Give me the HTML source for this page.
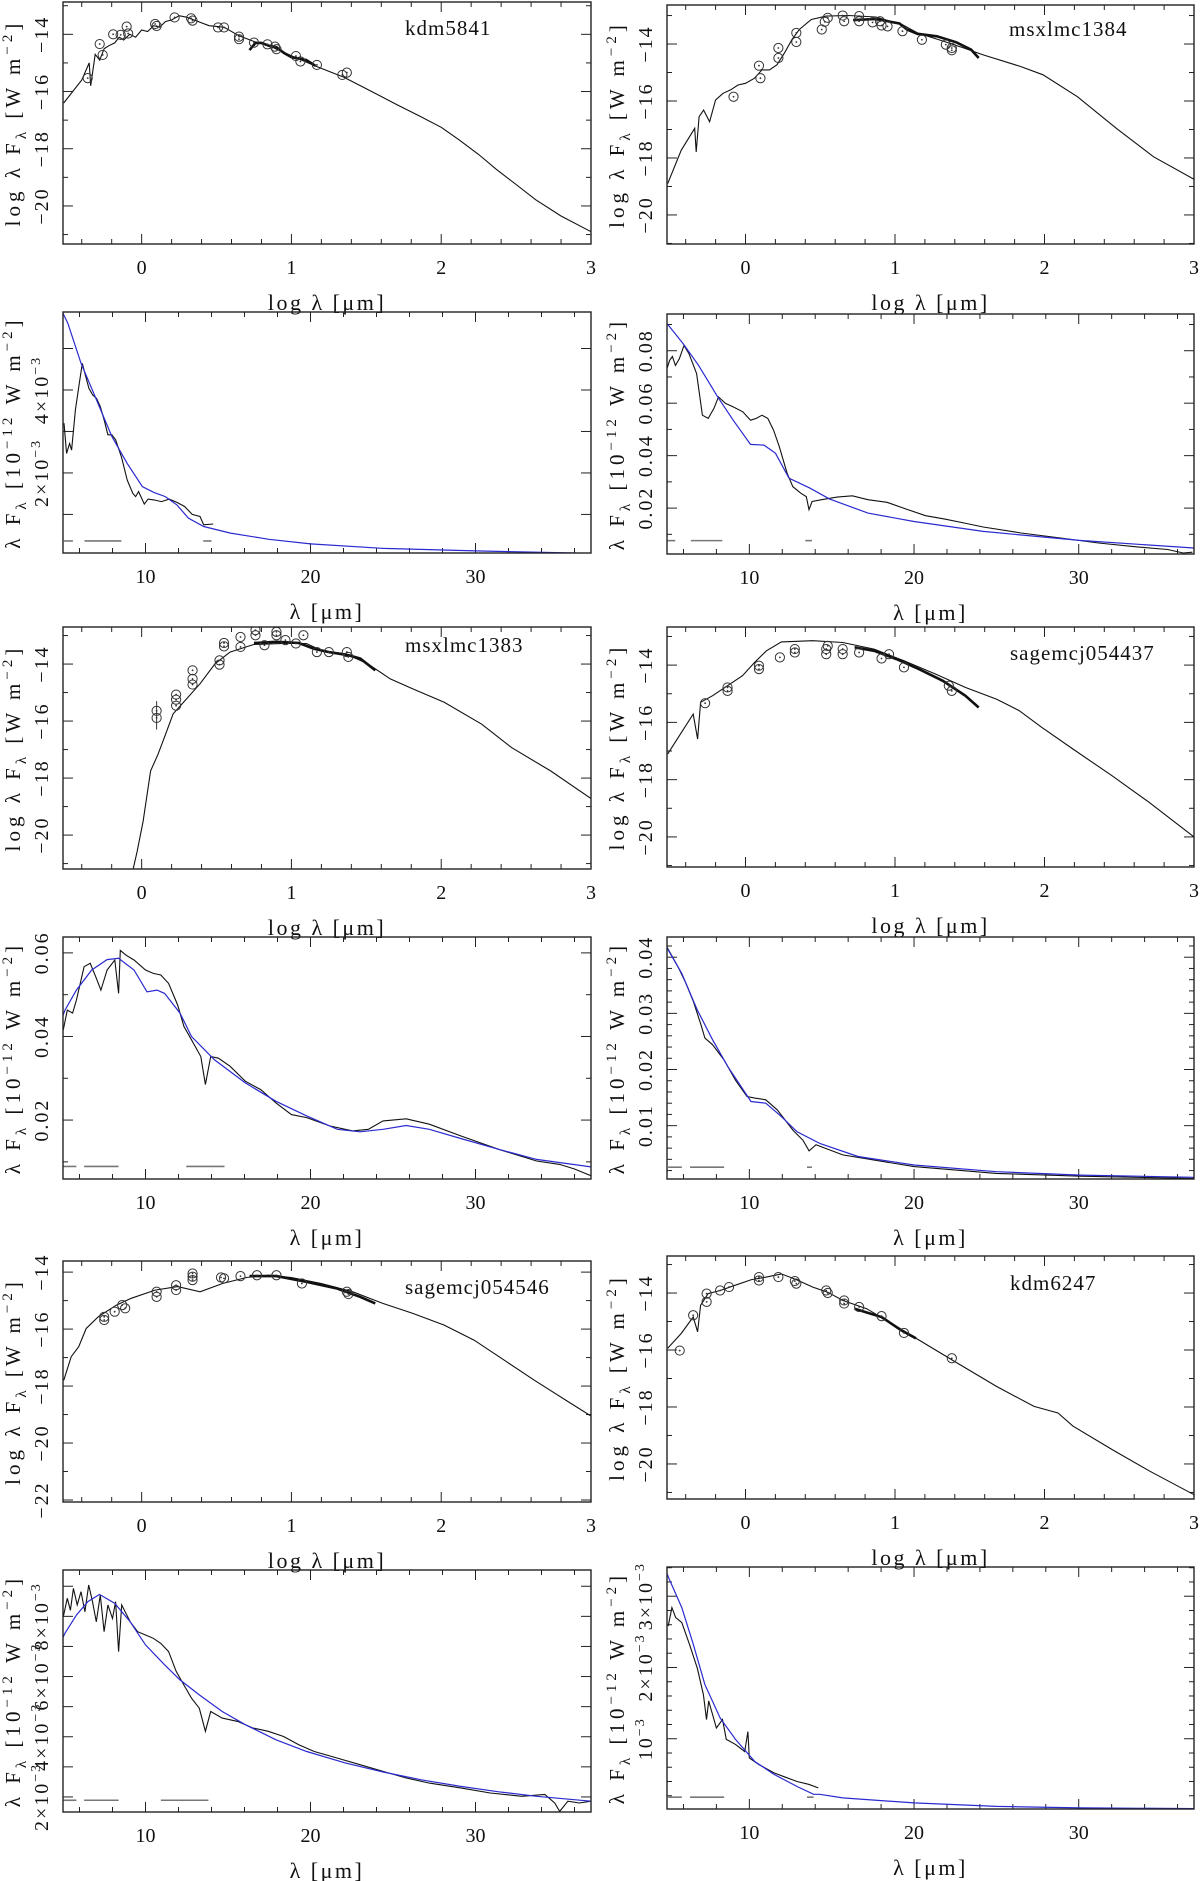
<!DOCTYPE html>
<html><head><meta charset="utf-8"><title>SED panels</title>
<style>
html,body{margin:0;padding:0;background:#fff;}
svg{display:block;font-family:"Liberation Serif",serif;}
</style></head>
<body>
<svg id="fig" xmlns="http://www.w3.org/2000/svg" width="1200" height="1881" viewBox="0 0 1200 1881">
<rect x="0" y="0" width="1200" height="1881" fill="#fff"/>
</svg>
<script>
// ---------- DATA ----------
const p1Model=[[-0.52,-16.4],[-0.40,-15.6],[-0.35,-15.0],[-0.34,-15.8],[-0.31,-14.7],[-0.28,-14.9],[-0.25,-14.5],[-0.22,-14.4],[-0.18,-14.3],[-0.15,-14.1],[-0.12,-14.2],[-0.08,-14.0],[-0.04,-14.1],[0.0,-13.85],[0.04,-13.9],[0.08,-13.7],[0.12,-13.75],[0.16,-13.55],[0.2,-13.5],[0.25,-13.35],[0.3,-13.4],[0.35,-13.5],[0.45,-13.7],[0.55,-13.75],[0.65,-14.05],[0.75,-14.25],[0.85,-14.4],[1.0,-14.75],[1.17,-15.13],[1.35,-15.5],[1.5,-15.9],[1.7,-16.45],[1.86,-16.87],[2.0,-17.25],[2.12,-17.69],[2.25,-18.2],[2.37,-18.73],[2.5,-19.25],[2.63,-19.78],[2.8,-20.35],[3.0,-20.9]];
const p1Spec=[[0.72,-14.55],[0.76,-14.3],[0.8,-14.3],[0.85,-14.4],[0.9,-14.45],[0.95,-14.65],[1.0,-14.8],[1.05,-14.85],[1.1,-14.9],[1.16,-15.1]];
const p1Phot=[[-0.36,-15.53],[-0.28,-14.34],[-0.26,-14.72],[-0.19,-14.0],[-0.14,-14.02],[-0.10,-13.73],[-0.09,-13.97],[0.09,-13.64],[0.1,-13.71],[0.22,-13.41],[0.33,-13.44],[0.34,-13.52],[0.51,-13.76],[0.55,-13.76],[0.65,-14.08],[0.65,-14.17],[0.75,-14.29],[0.84,-14.35],[0.89,-14.43],[0.9,-14.52],[1.03,-14.76],[1.06,-14.95],[1.17,-15.07],[1.34,-15.42],[1.37,-15.34]];
const p2Model=[[5.0,5.85],[5.29,5.61],[6.1,4.64],[7.03,3.76],[7.96,2.88],[8.89,2.23],[9.81,1.67],[10.51,1.53],[11.2,1.43],[11.9,1.23],[12.6,0.91],[13.53,0.71],[15.15,0.55],[17.47,0.40],[20,0.29],[24.4,0.18],[30,0.12],[37,0.06]];
const p2Spec=[[5.06,3.2],[5.22,2.47],[5.4,2.71],[5.52,2.55],[5.75,3.52],[5.99,4.16],[6.17,4.64],[6.33,4.4],[6.57,4.04],[6.8,3.88],[7.03,3.8],[7.26,3.6],[7.49,3.28],[7.72,2.92],[7.96,2.92],[8.19,2.8],[8.54,2.39],[8.89,1.83],[9.23,1.51],[9.4,1.43],[9.58,1.55],[9.93,1.25],[10.16,1.37],[10.51,1.35],[10.97,1.31],[11.44,1.37],[11.9,1.29],[12.37,1.19],[12.83,1.0],[13.3,0.95],[13.53,0.75],[14.1,0.77]];
const p2Ref=[[5.05,5.6,0.36],[6.3,8.54,0.36],[13.5,14.0,0.36]];
const p3Model=[[-0.52,-18.9],[-0.43,-17.73],[-0.34,-16.96],[-0.33,-17.79],[-0.31,-16.55],[-0.28,-16.32],[-0.24,-16.73],[-0.2,-15.96],[-0.15,-15.73],[-0.1,-15.61],[-0.05,-15.44],[0,-15.38],[0.06,-15.2],[0.11,-14.91],[0.16,-14.91],[0.21,-14.73],[0.26,-14.32],[0.31,-13.85],[0.36,-13.49],[0.44,-13.14],[0.54,-13.02],[0.69,-13.0],[0.87,-13.05],[1.05,-13.32],[1.15,-13.61],[1.33,-13.91],[1.46,-14.14],[1.59,-14.38],[1.84,-14.79],[1.99,-15.08],[2.22,-15.85],[2.48,-16.96],[2.73,-17.96],[3.0,-18.75]];
const p3Spec=[[0.72,-13.16],[0.87,-13.12],[1.03,-13.28],[1.08,-13.49],[1.15,-13.64],[1.28,-13.73],[1.41,-13.94],[1.51,-14.2],[1.56,-14.49]];
const p3Phot=[[-0.08,-15.85],[0.09,-14.76],[0.1,-15.2],[0.22,-14.14],[0.22,-14.49],[0.34,-13.61],[0.34,-13.93],[0.51,-13.49],[0.53,-13.22],[0.55,-13.08],[0.65,-13.0],[0.66,-13.2],[0.76,-13.02],[0.76,-13.2],[0.85,-13.24],[0.9,-13.2],[0.91,-13.35],[0.95,-13.38],[1.05,-13.55],[1.18,-13.85],[1.34,-14.02],[1.38,-14.14],[1.38,-14.22]];
const p4Model=[[5.05,0.09],[5.98,0.0827],[6.92,0.0744],[8.08,0.0624],[9.02,0.0535],[10.07,0.0443],[10.89,0.044],[11.59,0.0409],[12.41,0.0314],[13.69,0.0276],[14.86,0.0235],[17.2,0.0181],[20,0.0149],[24.2,0.0111],[30.05,0.0077],[37,0.0048]];
const p4Spec=[[5.0,0.0732],[5.16,0.0763],[5.33,0.0778],[5.51,0.0744],[5.75,0.077],[6.03,0.082],[6.33,0.0789],[6.8,0.0713],[7.15,0.0554],[7.5,0.0542],[7.85,0.058],[8.13,0.0624],[8.55,0.0599],[9.02,0.0586],[9.6,0.0567],[10.07,0.0535],[10.42,0.0542],[10.77,0.0554],[11.12,0.0542],[11.47,0.0497],[11.82,0.0434],[12.29,0.0333],[12.64,0.0282],[13.11,0.0257],[13.46,0.0244],[13.62,0.0194],[13.81,0.0225],[14.39,0.0232],[15.33,0.0242],[16.26,0.0247],[17.2,0.0232],[18.36,0.0222],[19.53,0.0196],[20.7,0.0171],[21.87,0.0158],[23.04,0.0143],[24.2,0.0128],[26.5,0.0105],[28.9,0.0086],[31.2,0.0067],[33.55,0.0052],[35.4,0.0042],[36.35,0.0029],[36.9,0.0032]];
const p4Ref=[[5.0,5.5,0.0076],[6.45,8.36,0.0076],[13.4,13.8,0.0076]];
const p5Model=[[-0.06,-21.26],[-0.03,-20.58],[0.01,-19.52],[0.06,-17.75],[0.11,-17.16],[0.16,-16.46],[0.21,-15.75],[0.29,-15.28],[0.39,-14.69],[0.49,-13.99],[0.59,-13.58],[0.75,-13.31],[0.95,-13.28],[1.1,-13.28],[1.2,-13.52],[1.36,-13.64],[1.51,-13.99],[1.66,-14.52],[1.81,-14.87],[2.02,-15.34],[2.27,-16.11],[2.47,-16.93],[2.73,-17.75],[3.0,-18.72]];
const p5Spec=[[0.75,-13.26],[0.9,-13.22],[1.05,-13.26],[1.15,-13.46],[1.25,-13.58],[1.38,-13.69],[1.46,-13.81],[1.56,-14.22]];
const p5Phot=[[0.1,-15.64],[0.1,-15.89],[0.23,-15.07],[0.23,-15.25],[0.23,-15.46],[0.34,-14.22],[0.34,-14.52],[0.34,-14.72],[0.52,-13.87],[0.52,-14.02],[0.55,-13.26],[0.55,-13.38],[0.66,-13.05],[0.66,-13.4],[0.76,-12.81],[0.76,-12.99],[0.82,-13.34],[0.9,-12.87],[0.9,-12.99],[0.96,-13.16],[1.03,-13.28],[1.08,-12.99],[1.17,-13.58],[1.25,-13.58],[1.37,-13.58],[1.38,-13.75]];
const p5Err=[[0.1,-15.3,-16.3]];
const p6Model=[[-0.52,-17.1],[-0.35,-15.71],[-0.32,-16.58],[-0.3,-15.3],[-0.22,-15.07],[-0.12,-14.72],[-0.02,-14.37],[0.06,-13.91],[0.14,-13.5],[0.24,-13.19],[0.45,-13.15],[0.65,-13.21],[0.86,-13.44],[1.06,-13.85],[1.27,-14.31],[1.47,-14.78],[1.68,-15.19],[1.83,-15.59],[1.98,-16.17],[2.19,-16.93],[2.45,-17.86],[2.7,-18.79],[3.0,-20.0]];
const p6Spec=[[0.73,-13.38],[0.86,-13.5],[1.01,-13.79],[1.16,-14.14],[1.32,-14.55],[1.47,-15.07],[1.56,-15.48]];
const p6Phot=[[-0.27,-15.33],[-0.12,-14.78],[-0.12,-14.9],[0.09,-14.02],[0.09,-14.14],[0.23,-13.73],[0.33,-13.44],[0.33,-13.56],[0.54,-13.44],[0.54,-13.62],[0.55,-13.33],[0.65,-13.44],[0.65,-13.62],[0.76,-13.56],[0.91,-13.77],[0.96,-13.62],[1.06,-14.08],[1.36,-14.72],[1.38,-14.9]];
const p7Model=[[5.0,0.045],[5.12,0.0463],[5.81,0.0511],[6.74,0.0559],[7.67,0.0584],[8.37,0.0587],[9.3,0.0559],[10.09,0.0507],[10.7,0.0511],[11.16,0.0503],[12.09,0.0456],[12.79,0.04],[14.19,0.0344],[16.05,0.0289],[17.91,0.0245],[19.77,0.021],[21.63,0.0178],[23.0,0.0172],[24.4,0.0178],[25.8,0.0187],[27.2,0.0178],[29.1,0.0156],[31.4,0.013],[33.7,0.0106],[37.0,0.0088]];
const p7Spec=[[5.02,0.0416],[5.26,0.0463],[5.58,0.0456],[5.81,0.0487],[6.28,0.0567],[6.65,0.0575],[6.98,0.0543],[7.3,0.0511],[7.67,0.0559],[8.14,0.0583],[8.37,0.0503],[8.47,0.0606],[8.84,0.0594],[9.3,0.0583],[10.0,0.0559],[10.47,0.0551],[10.93,0.0547],[11.4,0.0527],[11.95,0.0475],[12.33,0.0424],[12.79,0.0392],[13.35,0.0352],[13.63,0.0285],[13.95,0.0352],[14.42,0.0348],[15.12,0.0329],[16.05,0.0293],[16.98,0.0273],[17.91,0.0241],[18.84,0.0213],[19.77,0.0206],[21.16,0.0186],[22.56,0.0174],[23.5,0.0178],[24.4,0.0198],[25.8,0.0203],[27.2,0.019],[29.1,0.0162],[31.4,0.013],[33.7,0.0102],[35.1,0.0094],[36.0,0.0083],[37,0.0067]];
const p7Ref=[[5.02,5.81,0.0089],[6.28,8.37,0.0089],[12.47,14.79,0.0089]];
const p8Model=[[5.0,0.0416],[5.07,0.0413],[5.9,0.0371],[6.84,0.0306],[7.77,0.0253],[8.7,0.0205],[10.1,0.0143],[11.0,0.014],[11.95,0.0116],[12.9,0.0089],[14.3,0.0068],[16.6,0.0045],[20,0.003],[25,0.0018],[30.1,0.0012],[37,0.0008]];
const p8Spec=[[5.0,0.0418],[5.67,0.0383],[6.14,0.0354],[6.6,0.0321],[7.07,0.0279],[7.3,0.0256],[7.77,0.0244],[8.47,0.0217],[9.16,0.0181],[9.86,0.0152],[10.33,0.0149],[11.0,0.0146],[11.7,0.0128],[12.65,0.0092],[13.26,0.0074],[13.63,0.0055],[14.05,0.0066],[15.67,0.0048],[20,0.0027],[25,0.0015],[30.1,0.001],[37,0.0006]];
const p8Ref=[[5.07,5.9,0.0026],[6.4,8.47,0.0026],[13.5,13.8,0.0026]];
const p9Model=[[-0.52,-17.8],[-0.47,-16.97],[-0.42,-16.62],[-0.37,-15.98],[-0.29,-15.57],[-0.17,-15.16],[-0.07,-14.92],[0.09,-14.63],[0.24,-14.51],[0.39,-14.69],[0.54,-14.4],[0.7,-14.19],[0.85,-14.11],[1.0,-14.19],[1.2,-14.4],[1.41,-14.69],[1.61,-15.1],[1.81,-15.45],[2.02,-15.86],[2.22,-16.39],[2.42,-17.09],[2.62,-17.79],[2.83,-18.49],[3.0,-19.05]];
const p9Spec=[[0.72,-14.14],[0.9,-14.14],[1.1,-14.34],[1.3,-14.57],[1.46,-14.87],[1.56,-15.1]];
const p9Phot=[[-0.25,-15.57],[-0.25,-15.68],[-0.18,-15.39],[-0.13,-15.16],[-0.11,-15.27],[0.1,-14.69],[0.1,-14.87],[0.23,-14.46],[0.23,-14.63],[0.34,-14.05],[0.34,-14.16],[0.34,-14.28],[0.53,-14.19],[0.55,-14.22],[0.66,-14.14],[0.77,-14.11],[0.9,-14.11],[1.07,-14.4],[1.37,-14.69],[1.38,-14.77]];
const p10Model=[[-0.52,-15.94],[-0.43,-15.42],[-0.35,-14.84],[-0.32,-15.36],[-0.3,-14.43],[-0.25,-14.02],[-0.17,-13.91],[-0.07,-13.73],[0.04,-13.53],[0.14,-13.44],[0.24,-13.33],[0.34,-13.53],[0.45,-13.79],[0.55,-13.97],[0.65,-14.26],[0.81,-14.55],[0.96,-15.01],[1.16,-15.65],[1.42,-16.47],[1.68,-17.28],[1.93,-17.98],[2.09,-18.21],[2.19,-18.67],[2.45,-19.49],[2.7,-20.24],[3.0,-21.08]];
const p10Spec=[[0.73,-14.55],[0.91,-14.84],[1.04,-15.3],[1.14,-15.59]];
const p10Phot=[[-0.44,-16.02],[-0.35,-14.78],[-0.26,-14.31],[-0.26,-14.02],[-0.17,-13.91],[-0.11,-13.79],[0.09,-13.44],[0.09,-13.56],[0.22,-13.44],[0.33,-13.58],[0.34,-13.67],[0.54,-13.91],[0.55,-14.0],[0.66,-14.26],[0.66,-14.37],[0.76,-14.49],[0.91,-14.81],[1.06,-15.4],[1.38,-16.29]];
const p11Model=[[5.0,7.3],[5.12,7.44],[5.81,8.04],[6.51,8.49],[7.21,8.73],[8.14,8.43],[9.07,7.82],[10,7.05],[11.16,6.39],[12.09,5.89],[13.26,5.39],[14.65,4.84],[16.05,4.4],[17.91,3.9],[19.77,3.51],[22.1,3.13],[24.4,2.83],[26.7,2.57],[29.1,2.35],[31.4,2.17],[33.7,2.02],[37,1.86]];
const p11Spec=[[5.02,7.99],[5.26,8.6],[5.45,8.2],[5.63,8.93],[5.86,8.38],[6.09,8.82],[6.33,8.15],[6.56,9.04],[6.79,8.49],[7.02,7.82],[7.26,8.71],[7.49,7.49],[7.72,8.38],[8.0,7.93],[8.19,8.49],[8.37,6.83],[8.56,8.38],[9.07,7.82],[9.53,7.49],[10.0,7.38],[10.47,7.27],[10.93,7.1],[11.4,6.83],[11.86,6.17],[12.33,5.72],[12.79,5.28],[13.26,4.95],[13.63,4.18],[13.95,4.84],[14.65,4.62],[15.58,4.51],[16.51,4.29],[17.44,4.18],[18.37,4.01],[19.3,3.73],[20.23,3.51],[21.63,3.29],[23.0,3.07],[24.4,2.85],[25.8,2.63],[27.2,2.46],[29.1,2.3],[30.9,2.13],[32.8,2.02],[34.2,2.08],[34.8,1.8],[35.1,1.52],[35.6,1.86],[36.3,1.8],[37,1.86]];
const p11Ref=[[5.02,5.81,1.89],[6.28,8.37,1.89],[10.93,13.81,1.89]];
const p12Model=[[5.0,3.32],[5.1,3.26],[5.9,2.84],[6.6,2.32],[7.3,1.76],[8.23,1.29],[9.16,0.99],[10.33,0.68],[11.5,0.5],[12.9,0.33],[13.9,0.22],[14.28,0.22],[15.67,0.17],[20,0.1],[25,0.05],[30.1,0.03],[37,0.02]];
const p12Spec=[[5.07,2.58],[5.3,2.84],[5.53,2.7],[5.9,2.63],[6.37,2.32],[6.84,1.99],[7.21,1.62],[7.4,1.27],[7.53,1.53],[8.0,1.15],[8.37,1.27],[8.6,0.99],[9.16,0.92],[9.72,0.82],[9.91,1.1],[10.0,0.73],[10.56,0.64],[11.5,0.52],[12.19,0.46],[12.9,0.4],[13.6,0.36],[14.19,0.31]];
const p12Ref=[[5.07,5.9,0.18],[6.4,8.47,0.18],[13.5,13.9,0.18]];

const sedXLabels=[0,1,2,3];
const specXLabels=[10,20,30];
const sedYLabels=[-14,-16,-18,-20,-22];

// ---------- LAYOUT ----------
const L={x0:63,x1:591}, R={x0:667,x1:1194};
const panels=[
 {key:'kdm5841-sed',kind:'sed',col:L,y0:2,y1:244,ymin:-21.33,ymax:-12.87,name:'kdm5841',nx:405,ny:35,model:p1Model,spec:p1Spec,phot:p1Phot},
 {key:'msxlmc1384-sed',kind:'sed',col:R,y0:5,y1:244,ymin:-21.02,ymax:-12.63,name:'msxlmc1384',nx:1009,ny:36,model:p3Model,spec:p3Spec,phot:p3Phot},
 {key:'kdm5841-spectrum',kind:'spec',col:L,y0:312,y1:553,ymin:0.07,ymax:5.88,model:p2Model,spec:p2Spec,ref:p2Ref,minor:1,major:1,labels:[[2,'2×10','−3'],[4,'4×10','−3']]},
 {key:'msxlmc1384-spectrum',kind:'spec',col:R,y0:314,y1:554,ymin:0.0025,ymax:0.094,model:p4Model,spec:p4Spec,ref:p4Ref,minor:0.01,major:0.02,labels:[[0.02,'0.02',''],[0.04,'0.04',''],[0.06,'0.06',''],[0.08,'0.08','']]},
 {key:'msxlmc1383-sed',kind:'sed',col:L,y0:627,y1:869,ymin:-21.19,ymax:-12.70,name:'msxlmc1383',nx:405,ny:652,model:p5Model,spec:p5Spec,phot:p5Phot,err:p5Err},
 {key:'sagemcj054437-sed',kind:'sed',col:R,y0:627,y1:867,ymin:-21.05,ymax:-12.67,name:'sagemcj054437',nx:1010,ny:660,model:p6Model,spec:p6Spec,phot:p6Phot},
 {key:'msxlmc1383-spectrum',kind:'spec',col:L,y0:937,y1:1179,ymin:0.0059,ymax:0.0638,model:p7Model,spec:p7Spec,ref:p7Ref,minor:0.01,major:0.02,labels:[[0.02,'0.02',''],[0.04,'0.04',''],[0.06,'0.06','']]},
 {key:'sagemcj054437-spectrum',kind:'spec',col:R,y0:937,y1:1179,ymin:0.0005,ymax:0.0436,model:p8Model,spec:p8Spec,ref:p8Ref,minor:0.002,major:0.01,labels:[[0.01,'0.01',''],[0.02,'0.02',''],[0.03,'0.03',''],[0.04,'0.04','']]},
 {key:'sagemcj054546-sed',kind:'sed',col:L,y0:1261,y1:1502,ymin:-22.07,ymax:-13.61,name:'sagemcj054546',nx:405,ny:1294,model:p9Model,spec:p9Spec,phot:p9Phot},
 {key:'kdm6247-sed',kind:'sed',col:R,y0:1256,y1:1499,ymin:-21.23,ymax:-12.70,name:'kdm6247',nx:1010,ny:1290,model:p10Model,spec:p10Spec,phot:p10Phot},
 {key:'sagemcj054546-spectrum',kind:'spec',col:L,y0:1570,y1:1812,ymin:1.5,ymax:9.54,model:p11Model,spec:p11Spec,ref:p11Ref,minor:1,major:1,labels:[[2,'2×10','−3'],[4,'4×10','−3'],[6,'6×10','−3'],[8,'8×10','−3']]},
 {key:'kdm6247-spectrum',kind:'spec',col:R,y0:1567,y1:1809,ymin:0.014,ymax:3.41,model:p12Model,spec:p12Spec,ref:p12Ref,minor:0.2,major:1,labels:[[1,'10','−3'],[2,'2×10','−3'],[3,'3×10','−3']]}
];

const NS='http://www.w3.org/2000/svg';
const svg=document.getElementById('fig');
function el(tag,attrs,parent){const e=document.createElementNS(NS,tag);for(const k in attrs)e.setAttribute(k,attrs[k]);(parent||svg).appendChild(e);return e;}

panels.forEach((p,pi)=>{
  const x0=p.col.x0,x1=p.col.x1,y0=p.y0,y1=p.y1;
  const xmin=p.kind==='sed'?-0.525:5.0, xmax=p.kind==='sed'?3.0:37.0;
  const sx=v=>x0+(v-xmin)/(xmax-xmin)*(x1-x0);
  const sy=v=>y1-(v-p.ymin)/(p.ymax-p.ymin)*(y1-y0);
  const g=el('g',{});
  
  
  const cid='clip'+pi;
  const cp=el('clipPath',{id:cid},g);
  el('rect',{x:x0,y:y0,width:x1-x0,height:y1-y0},cp);

  const tg=el('g',{stroke:'#222','stroke-width':1},g);
  
  
  if(p.kind==='sed'){
    for(let k=-2;k<=15;k++){const v=k*0.2;const maj=(k%5===0);const X=sx(v);const len=maj?10:5;
      el('line',{x1:X,y1:y1,x2:X,y2:y1-len},tg);el('line',{x1:X,y1:y0,x2:X,y2:y0+len},tg);}
    for(let v=Math.ceil(p.ymin);v<=Math.floor(p.ymax);v++){const maj=(v%2===0);const Y=sy(v);const len=maj?10:5;
      el('line',{x1:x0,y1:Y,x2:x0+len,y2:Y},tg);el('line',{x1:x1,y1:Y,x2:x1-len,y2:Y},tg);}
  } else {
    for(let v=6;v<=36;v+=2){const maj=(v%10===0);const X=sx(v);const len=maj?10:5;
      el('line',{x1:X,y1:y1,x2:X,y2:y1-len},tg);el('line',{x1:X,y1:y0,x2:X,y2:y0+len},tg);}
    const n0=Math.ceil(p.ymin/p.minor-1e-6), n1=Math.floor(p.ymax/p.minor+1e-6);
    for(let n=n0;n<=n1;n++){const v=n*p.minor;const r=v/p.major;const maj=Math.abs(r-Math.round(r))<1e-6;const Y=sy(v);const len=maj?10:5;
      el('line',{x1:x0,y1:Y,x2:x0+len,y2:Y},tg);el('line',{x1:x1,y1:Y,x2:x1-len,y2:Y},tg);}
  }

  if(p.ref){p.ref.forEach(s=>{const ln=el('line',{x1:sx(s[0]),x2:sx(s[1]),y1:sy(s[2]),y2:sy(s[2]),stroke:'#777','stroke-width':1.6},g);
    
    });}

  const path=pts=>'M'+pts.map(q=>sx(q[0]).toFixed(1)+','+sy(q[1]).toFixed(1)).join('L');
  if(p.kind==='sed'){
    const m=el('path',{d:path(p.model),fill:'none',stroke:'#111','stroke-width':1.1,'clip-path':'url(#'+cid+')'},g);
    
    
    const s=el('path',{d:path(p.spec),fill:'none',stroke:'#111','stroke-width':2.6,'clip-path':'url(#'+cid+')'},g);
    
    
    if(p.err){p.err.forEach(e=>{const b=el('line',{x1:sx(e[0]),x2:sx(e[0]),y1:sy(e[1]),y2:sy(e[2]),stroke:'#333','stroke-width':1},g);
      
      });}
    p.phot.forEach(q=>{const c=el('circle',{cx:sx(q[0]),cy:sy(q[1]),r:4.6,fill:'none',stroke:'#333','stroke-width':1,'clip-path':'url(#'+cid+')'},g);
      
      
      const d=el('circle',{cx:sx(q[0]),cy:sy(q[1]),r:0.9,fill:'#333'},g);
      
      });
    const nm=el('text',{x:p.nx,y:p.ny,'font-size':21,fill:'#111','letter-spacing':1},g);
    nm.textContent=p.name;
    
    
  } else {
    const s=el('path',{d:path(p.spec),fill:'none',stroke:'#111','stroke-width':1.1,'clip-path':'url(#'+cid+')'},g);
    
    
    const m=el('path',{d:path(p.model),fill:'none',stroke:'#2a2ad0','stroke-width':1.2,'clip-path':'url(#'+cid+')'},g);
    
    
  }

  const fr=el('rect',{x:x0,y:y0,width:x1-x0,height:y1-y0,fill:'none',stroke:'#222','stroke-width':1.4},g);
  
  

  const xl=p.kind==='sed'?sedXLabels:specXLabels;
  xl.forEach(v=>{const t=el('text',{x:sx(v),y:y1+30,'font-size':20,'text-anchor':'middle',fill:'#111'},g);
    t.textContent=String(v);
    
    });
  const xt=el('text',{x:(x0+x1)/2,y:y1+66,'font-size':22,'text-anchor':'middle',fill:'#111','letter-spacing':2.5},g);
  
  
  if(p.kind==='sed'){xt.appendChild(document.createTextNode('log λ [μm]'));}
  else {xt.appendChild(document.createTextNode('λ [μm]'));}

  const lx=x0-15;
  const ylabs=p.kind==='sed'?sedYLabels.filter(v=>v>=p.ymin&&v<=p.ymax).map(v=>[v,'−'+Math.abs(v),'']):p.labels;
  ylabs.forEach(l=>{const Y=sy(l[0]);
    const t=el('text',{x:0,y:0,transform:'translate('+lx+','+Y+') rotate(-90)','font-size':20,'text-anchor':'middle',fill:'#111','letter-spacing':2},g);
    
    
    const a=el('tspan',{},t);a.textContent=l[1];
    if(l[2]){const b=el('tspan',{dy:-8,'font-size':14},t);b.textContent=l[2];}
  });
  const tx=x0-43, ty=(y0+y1)/2;
  const yt=el('text',{x:0,y:0,transform:'translate('+tx+','+ty+') rotate(-90)','font-size':21,'text-anchor':'middle',fill:'#111','letter-spacing':4},g);
  
  
  const parts=p.kind==='sed'
    ?[['log λ F',0,21],['λ',6,15],[' [W  m',-6,21],['−2',-8,15],[']',8,21]]
    :[['λ F',0,21],['λ',6,15],[' [10',-6,21],['−12',-8,15],[' W  m',8,21],['−2',-8,15],[']',8,21]];
  parts.forEach(q=>{const s=el('tspan',{dy:q[1],'font-size':q[2]},yt);s.textContent=q[0];});
});
</script>
</body></html>
